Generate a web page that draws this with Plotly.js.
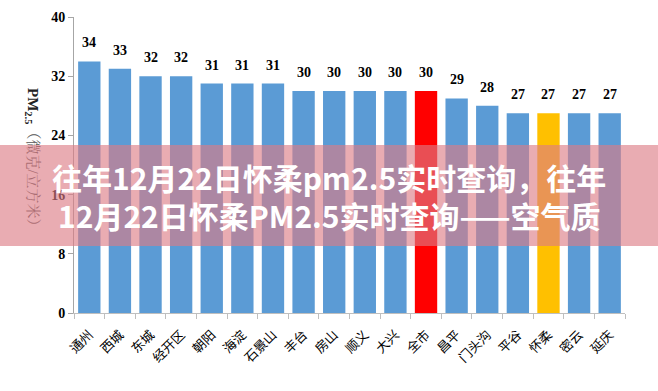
<!DOCTYPE html>
<html>
<head>
<meta charset="utf-8">
<script src="https://cdn.plot.ly/plotly-3.0.1.min.js"></script>
<style>html,body{margin:0;padding:0;background:#fff;}#chart{width:658px;height:391px;}</style>
</head>
<body>
<div id="chart"></div>
<script>
const categories = ['通州','西城','东城','经开区','朝阳','海淀','石景山','丰台','房山','顺义','大兴','全市','昌平','门头沟','平谷','怀柔','密云','延庆'];
const values = [34,33,32,32,31,31,31,30,30,30,30,30,29,28,27,27,27,27];
const barColors = ['#5b9bd5','#5b9bd5','#5b9bd5','#5b9bd5','#5b9bd5','#5b9bd5','#5b9bd5','#5b9bd5','#5b9bd5','#5b9bd5','#5b9bd5','#ff0000','#5b9bd5','#5b9bd5','#5b9bd5','#ffc000','#5b9bd5','#5b9bd5'];
const yTicks = [0,8,16,24,32,40];
const yTitle = '<b>PM<sub>2.5</sub></b><span style="color:#555">（微克/立方米）</span>';
const bannerLine1 = '往年12月22日怀柔pm2.5实时查询，往年';
const bannerLine2 = '12月22日怀柔PM2.5实时查询——空气质';

const labelAnnotations = categories.map((c, i) => ({
  x: c, y: values[i], xref: 'x', yref: 'y', text: String(values[i]),
  showarrow: false, yanchor: 'bottom', yshift: 9,
  font: {family: 'Liberation Serif', size: 14, color: '#000', weight: 'bold'}
}));

const annotations = [
  {xref: 'paper', yref: 'paper', x: -0.0744, y: 0.5135, text: yTitle, textangle: 90,
   showarrow: false, xanchor: 'center', yanchor: 'middle',
   font: {family: 'Liberation Serif, Noto Serif CJK SC, serif', size: 15, color: '#222'}},
  ...labelAnnotations,
  {xref: 'paper', yref: 'paper', x: 0.4628, y: 0.397, text: ' ', showarrow: false,
   width: 720, height: 101, borderpad: 0, borderwidth: 0,
   bgcolor: 'rgba(220,123,133,0.63)', xanchor: 'center', yanchor: 'middle',
   font: {size: 10, color: 'rgba(0,0,0,0)'}},
  {xref: 'paper', yref: 'paper', x: 0.4628, y: (313-177)/296, text: bannerLine1, showarrow: false,
   xanchor: 'center', yanchor: 'middle',
   font: {family: 'Noto Sans CJK SC', size: 30, color: '#ffffff', weight: 'bold'}},
  {xref: 'paper', yref: 'paper', x: 0.4628, y: (313-215)/296, text: bannerLine2, showarrow: false,
   xanchor: 'center', yanchor: 'middle',
   font: {family: 'Noto Sans CJK SC', size: 30, color: '#ffffff', weight: 'bold'}}
];

const data = [{
  type: 'bar', x: categories, y: values,
  marker: {color: barColors, line: {width: 0}},
  hoverinfo: 'none'
}];

const layout = {
  width: 658, height: 391,
  margin: {l: 74, r: 33, t: 17, b: 78},
  paper_bgcolor: '#ffffff', plot_bgcolor: '#ffffff',
  showlegend: false,
  bargap: 0.27,
  xaxis: {
    type: 'category', tickangle: -45, showgrid: false, zeroline: false,
    showline: true, linecolor: '#bfbfbf', linewidth: 1,
    ticks: 'outside', tickson: 'boundaries', ticklen: 5, tickcolor: '#bfbfbf',
    ticklabelstandoff: 8,
    tickfont: {family: 'Noto Sans CJK SC', size: 13, color: '#000'}
  },
  yaxis: {
    range: [0, 40], tickvals: yTicks, ticktext: yTicks.map(String),
    showgrid: false, zeroline: false,
    showline: true, linecolor: '#a6a6a6', linewidth: 1,
    ticks: 'outside', ticklen: 5, tickcolor: '#a6a6a6',
    tickfont: {family: 'Liberation Serif', size: 14, color: '#000', weight: 'bold'}
  },
  annotations: annotations
};

Plotly.newPlot('chart', data, layout, {staticPlot: true, displayModeBar: false});
</script>
</body>
</html>
